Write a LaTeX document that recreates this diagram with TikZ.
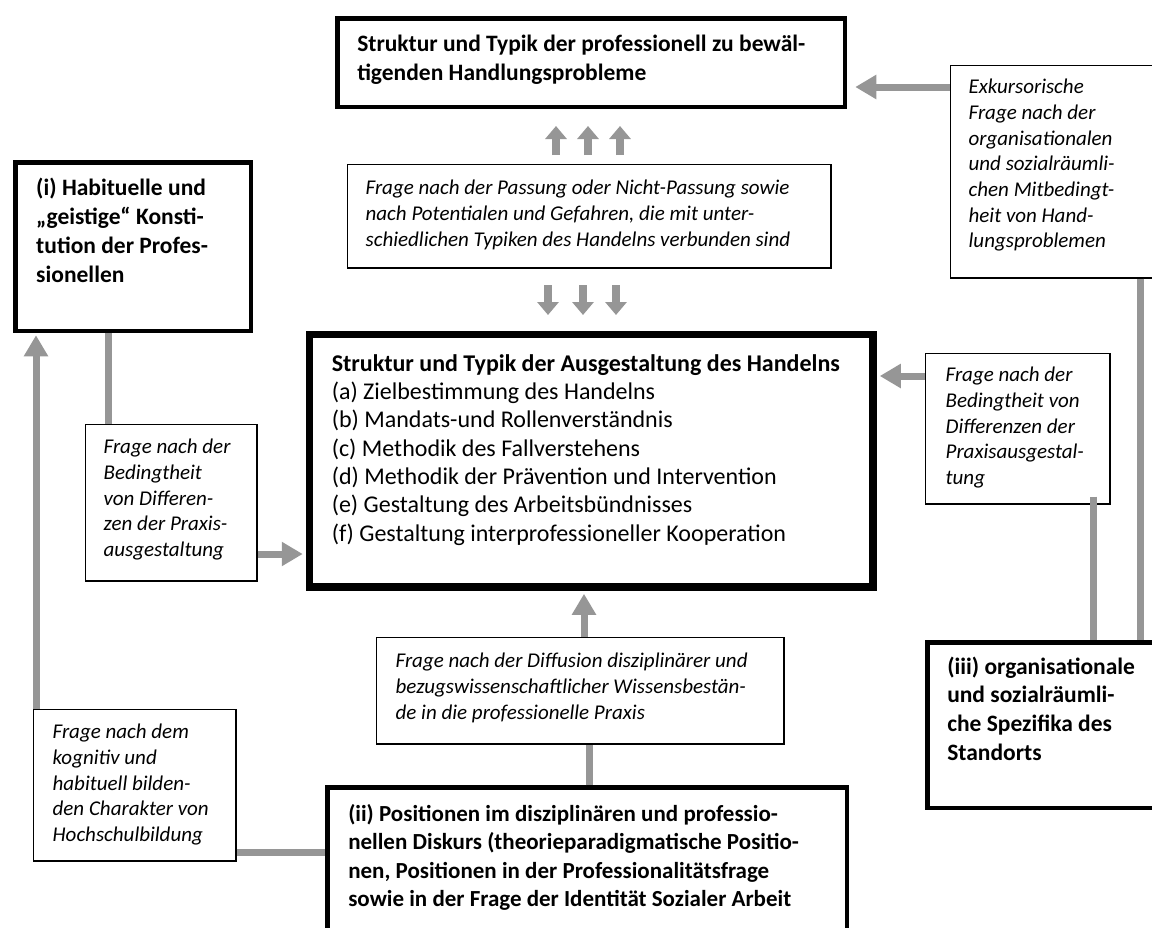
\documentclass[tikz,border=0pt]{standalone}
\usepackage{fontspec}
\setmainfont{Carlito}
\usetikzlibrary{arrows.meta}
\definecolor{ag}{RGB}{150,150,150}
\newcommand\li[1]{\mbox{#1}}
\newcommand\bx[5]{\begin{minipage}[t][#2pt][t]{#1pt}\raggedright\leftskip=#3pt\relax\rule{0pt}{#4pt}#5\end{minipage}}
\newcommand\fB{\bfseries\fontsize{23.5}{29}\selectfont}
\newcommand\fI{\itshape\fontsize{21}{25.7}\selectfont}
\newcommand\fM{\fontsize{24}{28.3}\selectfont}
\begin{document}
\begin{tikzpicture}[x=1pt,y=-1pt,
  thinbox/.style={draw,line width=1.3pt,anchor=north west,inner sep=0pt},
  thickbox/.style={draw,line width=4.5pt,anchor=north west,inner sep=0pt},
  mainbox/.style={draw,line width=7.5pt,anchor=north west,inner sep=0pt},
  conn/.style={draw=ag,line width=7pt},
  arr/.style={conn,-{Triangle[width=23pt,length=21pt]}},
  sarr/.style={draw=ag,line width=8pt,-{Triangle[width=21pt,length=13pt]}}]
\useasboundingbox (0,0) rectangle (1152,927);
\clip (0,0) rectangle (1152,927);

% boxes
\node[thickbox] (top) at (335.25,16.25) {\bx{507.5}{88.5}{19.75}{32.75}{\fB\li{Struktur und Typik der professionell zu bewäl-}\\\li{tigenden Handlungsprobleme}}};

\node[thickbox] (hab) at (13.25,160.25) {\bx{235.5}{168.5}{20.75}{32.75}{\fB\li{(i) Habituelle und}\\\li{„geistige“ Konsti-}\\\li{tution der Profes-}\\\li{sionellen}}};

\node[thinbox] (pass) at (346.65,163.65) {\bx{483.7}{103.7}{18.35}{30.35}{\fI\li{Frage nach der Passung oder Nicht-Passung sowie}\\\li{nach Potentialen und Gefahren, die mit unter-}\\\li{schiedlichen Typiken des Handelns verbunden sind}}};

\node[mainbox] (main) at (305.75,330.75) {\bx{563.5}{252.5}{22.25}{36.75}{\fM\li{\bfseries Struktur und Typik der Ausgestaltung des Handelns}\\\li{(a) Zielbestimmung des Handelns}\\\li{(b) Mandats-und Rollenverständnis}\\\li{(c) Methodik des Fallverstehens}\\\li{(d) Methodik der Prävention und Intervention}\\\li{(e) Gestaltung des Arbeitsbündnisses}\\\li{(f) Gestaltung interprofessioneller Kooperation}}};

\node[thinbox] (lf) at (84.65,423.65) {\bx{171.7}{156.7}{18.35}{29.35}{\fI\li{Frage nach der}\\\li{Bedingtheit}\\\li{von Differen-}\\\li{zen der Praxis-}\\\li{ausgestaltung}}};

\node[thinbox] (rf) at (924.65,352.65) {\bx{184.7}{150.7}{20.35}{28.35}{\fI\li{Frage nach der}\\\li{Bedingtheit von}\\\li{Differenzen der}\\\li{Praxisausgestal-}\\\li{tung}}};

\node[thinbox] (exk) at (949.65,64.65) {\bx{214.7}{212.7}{18.35}{28.35}{\fI\li{Exkursorische}\\\li{Frage nach der}\\\li{organisationalen}\\\li{und sozialräumli-}\\\li{chen Mitbedingt-}\\\li{heit von Hand-}\\\li{lungsproblemen}}};

\node[thinbox] (kog) at (32.65,708.65) {\bx{202.7}{151.7}{19.35}{29.35}{\fI\li{Frage nach dem}\\\li{kognitiv und}\\\li{habituell bilden-}\\\li{den Charakter von}\\\li{Hochschulbildung}}};

\node[thinbox] (diff) at (375.65,636.65) {\bx{407.7}{106.7}{19.35}{30.35}{\fI\li{Frage nach der Diffusion disziplinärer und}\\\li{bezugswissenschaftlicher Wissensbestän-}\\\li{de in die professionelle Praxis}}};

\node[thickbox] (pos) at (325.25,785.25) {\bx{519.5}{172.5}{20.75}{33.75}{\fontsize{23}{28.5}\selectfont\bfseries\li{(ii) Positionen im disziplinären und professio-}\\\li{nellen Diskurs (theorieparadigmatische Positio-}\\\li{nen, Positionen in der Professionalitätsfrage}\\\li{sowie in der Frage der Identität Sozialer Arbeit}}};

\node[thickbox] (org) at (925.25,640.25) {\bx{237.5}{165.5}{19.75}{31.75}{\fontsize{23.5}{28.7}\selectfont\bfseries\li{(iii) organisationale}\\\li{und sozialräumli-}\\\li{che Spezifika des}\\\li{Standorts}}};

% helper coordinates
\coordinate (h87) at (0,87);
\coordinate (h376) at (0,376);
\coordinate (h554) at (0,554);
\coordinate (h852) at (0,852);
\coordinate (x36) at (36,0);
\coordinate (x108) at (108,0);
\coordinate (x584) at (584,0);
\coordinate (x589) at (589,0);
\coordinate (x1093) at (1093,0);
\coordinate (x1140) at (1140,0);
\coordinate (topR) at ([xshift=8pt]top.east);
\coordinate (mainW) at ([xshift=-3pt]main.west);
\coordinate (mainE) at ([xshift=3pt]main.east);
\coordinate (mainS) at ([yshift=-3pt]main.south);
\coordinate (habS) at ([yshift=-2pt]hab.south);

% short arrows
\coordinate (u1s) at (556,155); \coordinate (u1e) at (556,126);
\coordinate (u2s) at (588,155); \coordinate (u2e) at (588,126);
\coordinate (u3s) at (620,155); \coordinate (u3e) at (620,126);
\coordinate (d1s) at (548,285); \coordinate (d1e) at (548,315);
\coordinate (d2s) at (583,285); \coordinate (d2e) at (583,315);
\coordinate (d3s) at (616,285); \coordinate (d3e) at (616,315);
\draw[sarr] (u1s) -- (u1e);
\draw[sarr] (u2s) -- (u2e);
\draw[sarr] (u3s) -- (u3e);
\draw[sarr] (d1s) -- (d1e);
\draw[sarr] (d2s) -- (d2e);
\draw[sarr] (d3s) -- (d3e);

% connectors
\draw[arr] (exk.west |- h87) -- (topR |- h87);
\draw[arr] (rf.west |- h376) -- (mainE |- h376);
\draw[arr] (lf.east |- h554) -- (mainW |- h554);
\draw[conn] (hab.south -| x108) -- (lf.north -| x108);
\draw[arr] (kog.north -| x36) -- (habS -| x36);
\draw[conn] (kog.east |- h852) -- (pos.west |- h852);
\draw[conn] (pos.north -| x589) -- (diff.south -| x589);
\draw[arr] (diff.north -| x584) -- (mainS -| x584);
\draw[conn] ([yshift=8pt]rf.south -| x1093) -- (org.north -| x1093);
\draw[conn] (exk.south -| x1140) -- (org.north -| x1140);
\end{tikzpicture}
\end{document}
